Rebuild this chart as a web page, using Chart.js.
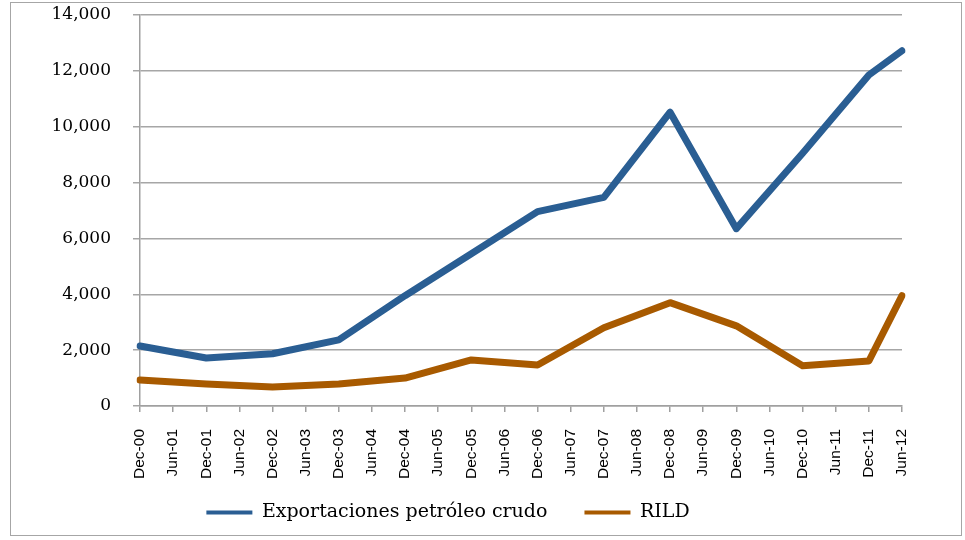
<!DOCTYPE html>
<html><head><meta charset="utf-8">
<script src="https://cdn.jsdelivr.net/npm/chart.js@4"></script>
<style>
html,body{margin:0;padding:0;background:#fff;}
#wrap{position:relative;width:965px;height:540px;overflow:hidden;}
#frame{position:absolute;left:10px;top:2px;width:952px;height:534px;border:1.5px solid #a6a6a6;box-sizing:border-box;pointer-events:none;}
canvas{position:absolute;left:0;top:0;}
</style></head>
<body>
<div id="wrap"><canvas id="c" width="965" height="540"></canvas><div id="frame"></div></div>
<script>
const categories = ["Dec-00","Jun-01","Dec-01","Jun-02","Dec-02","Jun-03","Dec-03","Jun-04","Dec-04","Jun-05","Dec-05","Jun-06","Dec-06","Jun-07","Dec-07","Jun-08","Dec-08","Jun-09","Dec-09","Jun-10","Dec-10","Jun-11","Dec-11","Jun-12"];
const exportaciones = [2150,null,1720,null,1870,null,2370,null,3950,null,5450,null,6960,null,7470,null,10520,null,6350,null,9050,null,11850,12720];
const rild = [930,null,790,null,680,null,790,null,1000,null,1650,null,1470,null,2800,null,3700,null,2870,null,1440,null,1610,3950];
const yTicks = [0,2000,4000,6000,8000,10000,12000,14000];
const seriesNames = ["Exportaciones petróleo crudo","RILD"];
const colors = ["#2a5e93","#a85a00"];

const adjustPlugin = {
  id: 'adjust',
  afterLayout(chart) {
    // let rotated x labels extend below the axis box without being clipped
    chart.scales.x.bottom = chart.scales.x.top + 80;
    // shift the legend slightly left like the original
    if (chart.legend) { chart.legend.left -= 8; chart.legend.right -= 8; }
  }
};

new Chart(document.getElementById('c'), {
  type: 'line',
  data: {
    labels: categories,
    datasets: [
      {label: seriesNames[0], data: exportaciones, borderColor: colors[0], backgroundColor: colors[0], borderWidth: 7, pointRadius: 0, spanGaps: true, tension: 0, borderJoinStyle: 'round', borderCapStyle: 'round'},
      {label: seriesNames[1], data: rild, borderColor: colors[1], backgroundColor: colors[1], borderWidth: 7, pointRadius: 0, spanGaps: true, tension: 0, borderJoinStyle: 'round', borderCapStyle: 'round'}
    ]
  },
  plugins: [adjustPlugin],
  options: {
    responsive: false,
    animation: false,
    layout: {padding: {left: 10, right: 63, top: 15, bottom: 8}},
    scales: {
      x: {
        offset: false,
        grid: {display: true, drawOnChartArea: false, drawTicks: true, tickLength: 6, color: '#a0a0a0', lineWidth: 1.5},
        border: {color: '#a0a0a0', width: 1.5},
        ticks: {autoSkip: false, maxRotation: 90, minRotation: 90, color: '#000', padding: 17, font: {family: 'Liberation Sans', size: 15.5}},
        afterFit: s => { s.height = 60; s.paddingLeft = 0; s.paddingRight = 0; }
      },
      y: {
        min: 0, max: 14000,
        afterBuildTicks: s => { s.ticks = yTicks.map(v => ({value: v})); },
        grid: {color: '#a6a6a6', lineWidth: 1.5, tickLength: 7},
        border: {color: '#a0a0a0', width: 1.5},
        ticks: {color: '#000', padding: 22, font: {family: 'DejaVu Serif', size: 17}, callback: v => v.toLocaleString('en-US')},
        afterFit: s => { s.width = 130; s.paddingTop = 0; s.paddingBottom = 0; }
      }
    },
    plugins: {
      tooltip: {enabled: false},
      legend: {
        position: 'bottom',
        labels: {
          color: '#000',
          font: {family: 'DejaVu Serif', size: 19},
          boxWidth: 46, boxHeight: 4, padding: 37,
          generateLabels: chart => chart.data.datasets.map((d, i) => ({text: d.label, fillStyle: d.borderColor, strokeStyle: d.borderColor, lineWidth: 0, datasetIndex: i, fontColor: '#000'}))
        }
      }
    }
  }
});
</script>
</body></html>
